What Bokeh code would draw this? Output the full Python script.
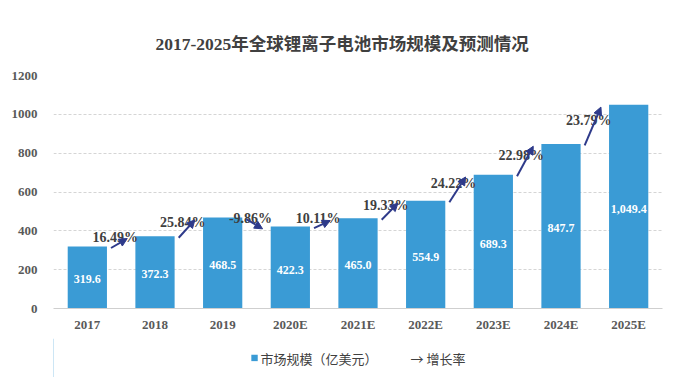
from bokeh.plotting import figure
from bokeh.layouts import column
from bokeh.models import (ColumnDataSource, Range1d, FixedTicker, Arrow, NormalHead,
                          Legend, LegendItem)
from bokeh.embed import file_html
from bokeh.resources import INLINE
from bokeh.core.properties import value

# ---------------- data ----------------
categories = ["2017", "2018", "2019", "2020E", "2021E", "2022E", "2023E", "2024E", "2025E"]
market_size = [319.6, 372.3, 468.5, 422.3, 465.0, 554.9, 689.3, 847.7, 1049.4]
growth_rate = [16.49, 25.84, -9.86, 10.11, 19.33, 24.22, 22.98, 23.79]
y_ticks = [0, 200, 400, 600, 800, 1000, 1200]
title_text = "2017-2025年全球锂离子电池市场规模及预测情况"
legend_bar = "市场规模（亿美元）"
legend_rate = "→ 增长率"

# ---------------- styles ----------------
BLUE = "#3A9BD5"
NAVY = "#2E3A8A"
DARK = "#404040"
GRAY = "#595959"
SERIF = "Liberation Serif"
TITLE_FONT = "Liberation Serif, Noto Sans CJK SC"

xs = list(range(len(categories)))

p = figure(width=691, height=338, output_backend="svg", toolbar_location=None,
           x_range=Range1d(-0.5, len(categories) - 0.5), y_range=Range1d(0, 1200),
           min_border_left=53, min_border_right=29, min_border_top=75,
           min_border_bottom=30)
p.outline_line_color = None
p.background_fill_color = "white"
p.border_fill_color = "white"

# title
p.title.text = title_text
p.title.align = "left"
p.title.offset = 102
p.title.text_font = TITLE_FONT
p.title.text_font_size = "17.5px"
p.title.text_font_style = "bold"
p.title.text_color = DARK
p.title.standoff = 43

# bars
bar_src = ColumnDataSource(dict(
    x=xs, top=market_size,
    mid=[v / 2 for v in market_size],
    label=[f"{v:,.1f}" for v in market_size]))
bars = p.vbar(x="x", top="top", width=0.58, source=bar_src,
              fill_color=BLUE, line_color=None)
p.text(x="x", y="mid", text="label", source=bar_src,
       text_align="center", text_baseline="middle", y_offset=2,
       text_color="white", text_font=value(SERIF), text_font_style="bold",
       text_font_size="12px")

# growth labels and arrows
n = len(growth_rate)
gap = [i + 0.5 for i in range(n)]
gr_src = ColumnDataSource(dict(
    x=gap,
    y=[(market_size[i] + market_size[i + 1]) / 2 for i in range(n)],
    label=[f"{g:.2f}%" for g in growth_rate]))
p.text(x="x", y="y", text="label", source=gr_src,
       text_align="center", text_baseline="middle", x_offset=-6, y_offset=-4,
       text_color=DARK, text_font=value(SERIF), text_font_style="bold",
       text_font_size="14px")

arr_src = ColumnDataSource(dict(
    x0=[g - 0.15 for g in gap], x1=[g + 0.09 for g in gap],
    y0=[market_size[i] - 8 for i in range(n)],
    y1=[market_size[i + 1] - 12 for i in range(n)]))
p.add_layout(Arrow(source=arr_src, x_start="x0", y_start="y0", x_end="x1", y_end="y1",
                   line_color=NAVY, line_width=2,
                   end=NormalHead(size=8, fill_color=NAVY, line_color=NAVY)))

# axes
p.yaxis.ticker = FixedTicker(ticks=y_ticks)
p.yaxis.axis_line_color = None
p.yaxis.major_tick_line_color = None
p.yaxis.minor_tick_line_color = None
p.yaxis.major_label_text_font = SERIF
p.yaxis.major_label_text_font_style = "bold"
p.yaxis.major_label_text_font_size = "13px"
p.yaxis.major_label_text_color = GRAY
p.yaxis.major_label_standoff = 10

p.xaxis.ticker = FixedTicker(ticks=xs)
p.xaxis.major_label_overrides = {i: c for i, c in enumerate(categories)}
p.xaxis.axis_line_color = "#CFCFCF"
p.xaxis.major_tick_line_color = None
p.xaxis.minor_tick_line_color = None
p.xaxis.major_label_text_font = SERIF
p.xaxis.major_label_text_font_style = "bold"
p.xaxis.major_label_text_font_size = "13px"
p.xaxis.major_label_text_color = GRAY
p.xaxis.major_label_standoff = 8
p.xaxis.major_tick_out = 0
p.xaxis.major_tick_in = 0

p.xgrid.visible = False
p.ygrid.grid_line_color = "#D5D5D5"
p.ygrid.grid_line_dash = "3 2"
p.ygrid.grid_line_width = 1

# legend strip (separate small figure so the legend is not clipped)
lg = figure(width=691, height=39, output_backend="svg", toolbar_location=None,
            x_range=Range1d(0, 1), y_range=Range1d(0, 1),
            x_axis_location=None, y_axis_location=None,
            min_border=0, min_border_left=0, min_border_right=0,
            min_border_top=0, min_border_bottom=0)
lg.grid.visible = False
lg.outline_line_color = None
lg.border_fill_color = "white"
lg.background_fill_color = "white"
# off-range proxies so the legend has glyphs to draw
lg_bar = lg.vbar(x=[-5], top=[1], width=0.5, fill_color=BLUE, line_color=None)
lg_rate = lg.scatter(x=[-5], y=[0.5], size=1, alpha=0)
legend = Legend(items=[LegendItem(label=legend_bar, renderers=[lg_bar]),
                       LegendItem(label=legend_rate, renderers=[lg_rate])],
                orientation="horizontal", location="center",
                glyph_width=8, glyph_height=8, label_standoff=3, spacing=22,
                label_text_font="Noto Sans CJK SC", label_text_font_size="13px",
                label_text_color=DARK, border_line_alpha=0,
                background_fill_alpha=0, padding=2, margin=0,
                label_height=14)
lg.add_layout(legend, "center")

layout = column(p, lg, spacing=0)
open("out.html", "w").write(file_html(layout, INLINE))
